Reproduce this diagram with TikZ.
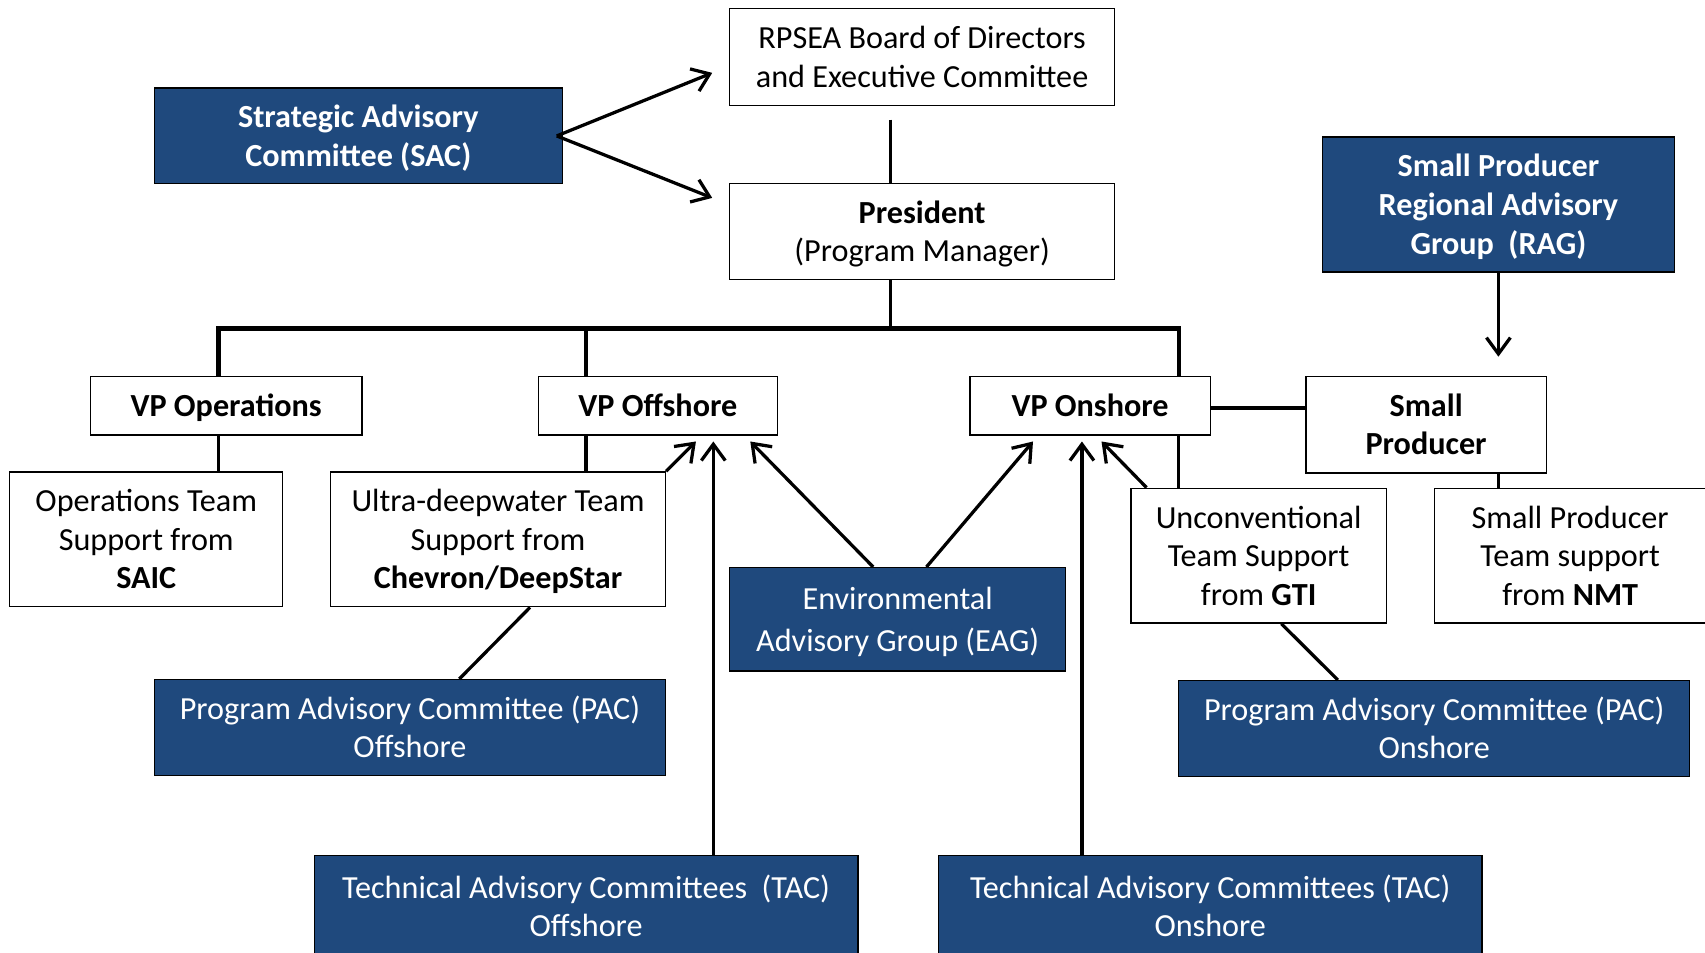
\documentclass[tikz,border=0pt]{standalone}
\usepackage{fontspec}
\setmainfont{Carlito}
\usetikzlibrary{arrows.meta}
\definecolor{navy}{RGB}{31,73,125}
\newcommand{\boxtext}[1]{\raisebox{-3pt}[\height][\depth]{\begin{tabular}{@{}c@{}}#1\end{tabular}}}
\tikzset{
  wbox/.style={draw=black, line width=1.2pt, fill=white, inner sep=0pt,
    font=\fontsize{29.6}{35.5}\selectfont},
  bbox/.style={wbox, fill=navy, text=white},
  conn/.style={line width=3pt},
  bus/.style={line width=4pt},
  arr/.style={line width=3pt, -{Straight Barb[length=15pt,width=22pt]}}
}
\begin{document}
\begin{tikzpicture}[x=1pt,y=-1pt]
\clip (0,0) rectangle (1568,876);
\fill[white] (0,0) rectangle (1568,876);
% nodes
\node[wbox, minimum width=354pt, minimum height=89pt] (board) at (848,52.5) {\boxtext{RPSEA Board of Directors\\and Executive Committee}};
\node[wbox, minimum width=354pt, minimum height=88pt] (pres) at (848,213) {\boxtext{\textbf{President}\\(Program Manager)}};
\node[bbox, minimum width=375pt, minimum height=88pt] (sac) at (329.5,125) {\boxtext{\textbf{Strategic Advisory}\\\textbf{Committee (SAC)}}};
\node[bbox, minimum width=324pt, minimum height=124pt] (rag) at (1378,188) {\boxtext{\textbf{Small Producer}\\\textbf{Regional Advisory}\\\textbf{Group\ \ (RAG)}}};
\node[wbox, minimum width=250pt, minimum height=54pt] (vpops) at (208,373) {\boxtext{\textbf{VP Operations}}};
\node[wbox, minimum width=220pt, minimum height=54pt] (vpoff) at (605,373) {\boxtext{\textbf{VP Offshore}}};
\node[wbox, minimum width=221pt, minimum height=54pt] (vpon) at (1002.5,373) {\boxtext{\textbf{VP Onshore}}};
\node[wbox, minimum width=221pt, minimum height=89pt] (sp) at (1311.5,390.5) {\boxtext{\textbf{Small}\\\textbf{Producer}}};
\node[wbox, minimum width=251pt, minimum height=124pt] (opsteam) at (134.5,496) {\boxtext{Operations Team\\Support from\\\textbf{SAIC}}};
\node[wbox, minimum width=308pt, minimum height=124pt] (ultra) at (458,496) {\boxtext{Ultra-deepwater Team\\Support from\\\textbf{Chevron/DeepStar}}};
\node[wbox, minimum width=235pt, minimum height=124pt] (unconv) at (1157.5,511) {\boxtext{Unconventional\\Team Support\\from \textbf{GTI}}};
\node[wbox, minimum width=250pt, minimum height=124pt] (spteam) at (1444,511) {\boxtext{Small Producer\\Team support\\from \textbf{NMT}}};
\node[bbox, minimum width=309pt, minimum height=95pt] (eag) at (825.5,569.5) {\boxtext{Environmental\\[3pt]Advisory Group (EAG)}};
\node[bbox, minimum width=470pt, minimum height=88pt] (pacoff) at (377,669) {\boxtext{Program Advisory Committee (PAC)\\Offshore}};
\node[bbox, minimum width=470pt, minimum height=88pt] (pacon) at (1319,670) {\boxtext{Program Advisory Committee (PAC)\\Onshore}};
\node[bbox, minimum width=500pt, minimum height=93pt] (tacoff) at (539,833.5) {\boxtext{Technical Advisory Committees\ \ (TAC)\\Offshore}};
\node[bbox, minimum width=500pt, minimum height=93pt] (tacon) at (1113,833.5) {\boxtext{Technical Advisory Committees (TAC)\\Onshore}};
% helper coordinates
\coordinate (bx) at (819,110);
\coordinate (busL) at (201,302);
\coordinate (busM) at (539,302);
\coordinate (busR) at (1084,302);
\coordinate (spx) at (1378,0);
\coordinate (ragtip) at (1378,328);
\coordinate (tipB) at (655,67);
\coordinate (tipP) at (655,182);
\coordinate (sacp) at (512,125);
\coordinate (tu) at (640,406);
\coordinate (t1) at (656,406);
\coordinate (te1) at (690,406);
\coordinate (te2) at (950,406);
\coordinate (t2) at (995,406);
\coordinate (tg) at (1013,406);
% tree lines
\draw[conn] (bx) -- (bx |- pres.north);
\draw[conn] (bx |- pres.south) -- (bx |- busL);
\draw[bus] (busL |- vpops.north) -- (busL) -- (busR) -- (busR |- vpon.north);
\draw[conn] (busM) -- (busM |- vpoff.north);
\draw[conn] (busL |- vpops.south) -- (busL |- opsteam.north);
\draw[conn] (busM |- vpoff.south) -- (busM |- ultra.north);
\draw[conn] (busR |- vpon.south) -- (busR |- unconv.north);
\draw[bus] ([yshift=-2pt]vpon.east) -- ([yshift=-2pt]sp.west |- vpon.east);
\draw[conn] (spx |- sp.south) -- (spx |- spteam.north);
\draw[conn] ([xshift=184pt]ultra.south west) -- ([xshift=281pt]pacoff.north west);
\draw[conn] ([xshift=139pt]unconv.south west) -- ([xshift=147pt]pacon.north west);
% arrows
\draw[arr] (rag.south) -- (ragtip);
\draw[arr] (sacp) -- (tipB);
\draw[arr] (sacp) -- (tipP);
\draw[arr] (ultra.north east) -- (tu);
\draw[arr] (t1 |- tacoff.north) -- (t1);
\draw[arr] ([xshift=-22.5pt]eag.north) -- (te1);
\draw[arr] ([xshift=26.5pt]eag.north) -- (te2);
\draw[arr] (t2 |- tacon.north) -- (t2);
\draw[arr] ([xshift=15pt]unconv.north west) -- (tg);
\end{tikzpicture}
\end{document}
